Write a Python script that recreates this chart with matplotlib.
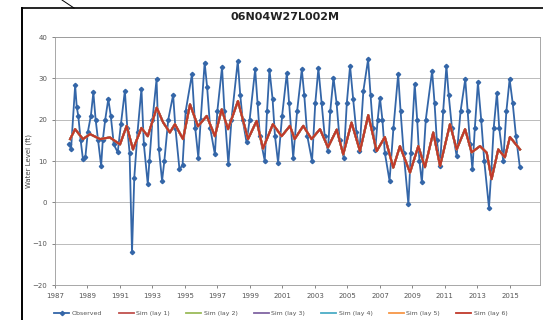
import matplotlib
matplotlib.use("Agg")
import matplotlib.pyplot as plt
from matplotlib.lines import Line2D

title = "06N04W27L002M"
ylabel = "Water Level (ft)"
year_ticks = [1987, 1989, 1991, 1993, 1995, 1997, 1999, 2001, 2003, 2005, 2007, 2009, 2011, 2013, 2015]
y_ticks = [-20, -10, 0, 10, 20, 30, 40]

obs_year = [1987.85, 1987.99, 1988.24, 1988.34, 1988.43, 1988.58, 1988.72, 1988.87, 1989.02, 1989.21,
            1989.36, 1989.50, 1989.65, 1989.84, 1989.94, 1990.09, 1990.28, 1990.43, 1990.62, 1990.86,
            1991.06, 1991.30, 1991.45, 1991.59, 1991.74, 1991.88, 1992.08, 1992.32, 1992.47, 1992.71,
            1992.81, 1993.00, 1993.25, 1993.39, 1993.59, 1993.73, 1993.97, 1994.27, 1994.41, 1994.66,
            1994.85, 1995.04, 1995.43, 1995.63, 1995.82, 1995.97, 1996.21, 1996.36, 1996.55, 1996.84,
            1996.99, 1997.28, 1997.43, 1997.67, 1997.86, 1998.25, 1998.40, 1998.55, 1998.79, 1998.98,
            1999.32, 1999.47, 1999.61, 1999.91, 2000.05, 2000.20, 2000.39, 2000.54, 2000.73, 2000.98,
            2001.27, 2001.41, 2001.66, 2001.90, 2002.19, 2002.34, 2002.53, 2002.82, 2003.02, 2003.21,
            2003.41, 2003.60, 2003.80, 2003.94, 2004.14, 2004.33, 2004.52, 2004.77, 2004.96, 2005.16,
            2005.35, 2005.55, 2005.74, 2005.98, 2006.27, 2006.42, 2006.57, 2006.71, 2006.86, 2007.00,
            2007.15, 2007.30, 2007.59, 2007.83, 2008.12, 2008.27, 2008.46, 2008.75, 2008.90, 2009.14,
            2009.29, 2009.43, 2009.58, 2009.82, 2010.21, 2010.36, 2010.50, 2010.70, 2010.89, 2011.09,
            2011.23, 2011.43, 2011.72, 2011.96, 2012.25, 2012.40, 2012.55, 2012.69, 2012.84, 2013.03,
            2013.23, 2013.42, 2013.71, 2013.86, 2014.00, 2014.20, 2014.34, 2014.59, 2014.78, 2014.98,
            2015.17, 2015.37, 2015.61]
obs_value = [14.0, 13.0, 28.3, 23, 21, 15, 10.4, 11, 17, 21,
             26.6, 20, 15, 8.8, 15, 20, 25, 21, 14, 12.1,
             19, 27, 18, 12, -12.1, 6, 17, 27.5, 14, 4.4,
             10, 20, 29.8, 13, 5.2, 10, 20, 26, 18, 8,
             9, 22, 31, 18, 10.8, 20, 33.8, 28, 18, 11.6,
             22, 32.7, 22, 9.2, 20, 34.2, 26, 20, 14.5, 20,
             32.2, 24, 16, 10, 22, 32.1, 25, 16, 9.6, 21,
             31.3, 24, 10.8, 22, 32.2, 26, 16, 10, 24, 32.4,
             24, 16, 12.4, 22, 30.2, 24, 15, 10.8, 24, 33,
             25, 17, 12.4, 27, 34.6, 26, 18, 12.7, 20, 25.3,
             20, 12, 5.2, 18, 31, 22, 12, -0.5, 12, 28.6,
             20, 10, 4.8, 20, 31.8, 24, 15, 8.8, 22, 33,
             26, 18, 11.2, 22, 29.8, 22, 14, 8, 18, 29,
             20, 10, -1.3, 8, 18, 26.5, 18, 10, 22, 29.8,
             24, 16, 8.5]

sim_year = [1987.93, 1988.24, 1988.72, 1989.16, 1989.77, 1990.38, 1991.00, 1991.41, 1991.80, 1992.32,
            1992.71, 1993.26, 1993.66, 1994.07, 1994.38, 1994.88, 1995.31, 1995.80, 1996.34, 1996.84,
            1997.26, 1997.65, 1998.26, 1998.88, 1999.41, 1999.80, 2000.41, 2000.95, 2001.46, 2001.75,
            2002.28, 2002.79, 2003.31, 2003.80, 2004.34, 2004.74, 2005.25, 2005.77, 2006.28, 2006.80,
            2007.30, 2007.82, 2008.23, 2008.85, 2009.36, 2009.77, 2010.28, 2010.70, 2011.31, 2011.72,
            2012.24, 2012.64, 2013.16, 2013.57, 2013.87, 2014.28, 2014.69, 2015.00, 2015.62]
sim_value = [15.3, 17.7, 15.3, 16.5, 15.3, 15.7, 14.0, 18.5, 12.8, 18.0,
             16.0, 22.9, 19.3, 16.9, 18.9, 15.3, 23.7, 18.4, 20.9, 16.0,
             22.5, 17.7, 24.5, 15.3, 19.7, 13.0, 18.9, 16.0, 18.5, 15.3,
             18.5, 15.3, 17.7, 13.3, 17.6, 11.6, 19.3, 12.4, 21.1, 12.4,
             15.8, 8.4, 13.6, 7.2, 13.6, 8.5, 16.9, 8.8, 18.9, 12.8,
             17.7, 12.1, 13.6, 12.0, 5.6, 12.8, 10.9, 15.8, 12.8]

sim_labels = ["Sim (lay 1)", "Sim (lay 2)", "Sim (lay 3)", "Sim (lay 4)", "Sim (lay 5)", "Sim (lay 6)"]
sim_colors = ["#C0504D", "#9BBB59", "#8064A2", "#4BACC6", "#F79646", "#C0392B"]
obs_color = "#3466A8"

W, H = 543, 320
fig = plt.figure(figsize=(W / 100, H / 100), dpi=100)
fig.patch.set_facecolor("white")

# outer frame lines (scanned figure border)
fig.add_artist(Line2D([22 / W, 22 / W], [0, 1 - 8 / H], color="black", lw=1.4, transform=fig.transFigure))
fig.add_artist(Line2D([22 / W, 1.0], [1 - 8 / H, 1 - 8 / H], color="black", lw=1.2, transform=fig.transFigure))
fig.add_artist(Line2D([62 / W, 74 / W], [1.0, 1 - 8 / H], color="black", lw=0.7, transform=fig.transFigure))

ax = fig.add_axes([55 / W, 1 - 285 / H, (540 - 55) / W, (285 - 37) / H])
for yv in y_ticks:
    ax.axhline(yv, color="#BBBBBB", lw=0.7, zorder=0)

ax.plot(obs_year, obs_value, color=obs_color, lw=1.3, marker="D", ms=2.2, zorder=3)
for i, (lab, col) in enumerate(zip(sim_labels, sim_colors)):
    ax.plot(sim_year, sim_value, color=col, lw=1.5, zorder=4 + i)

ax.set_xlim(1987, 2016.85)
ax.set_ylim(-20, 40)
ax.set_xticks(year_ticks)
ax.set_xticklabels([str(y) for y in year_ticks])
ax.set_yticks(y_ticks)
ax.tick_params(axis="both", labelsize=5, colors="#555555", length=2, width=0.5)
for s in ax.spines.values():
    s.set_color("#999999")
    s.set_linewidth(0.6)
ax.set_ylabel(ylabel, fontsize=5, color="#444444")
ax.yaxis.set_label_coords((32 - 55) / 485, 0.5)

fig.text(285 / W, 1 - 17 / H, title, ha="center", va="center", fontsize=8, fontweight="bold", color="#222222")

handles = [Line2D([], [], color=obs_color, lw=1.3, marker="D", ms=2.2)]
labels = ["Observed"]
for lab, col in zip(sim_labels, sim_colors):
    handles.append(Line2D([], [], color=col, lw=1.3))
    labels.append(lab)
fig.legend(handles, labels, loc="center", bbox_to_anchor=(281 / W, 1 - 313 / H), ncol=7,
           fontsize=4.5, frameon=False, handlelength=2.4, columnspacing=2.6, handletextpad=0.4,
           labelcolor="#555555")

fig.savefig("out.png", dpi=100)
